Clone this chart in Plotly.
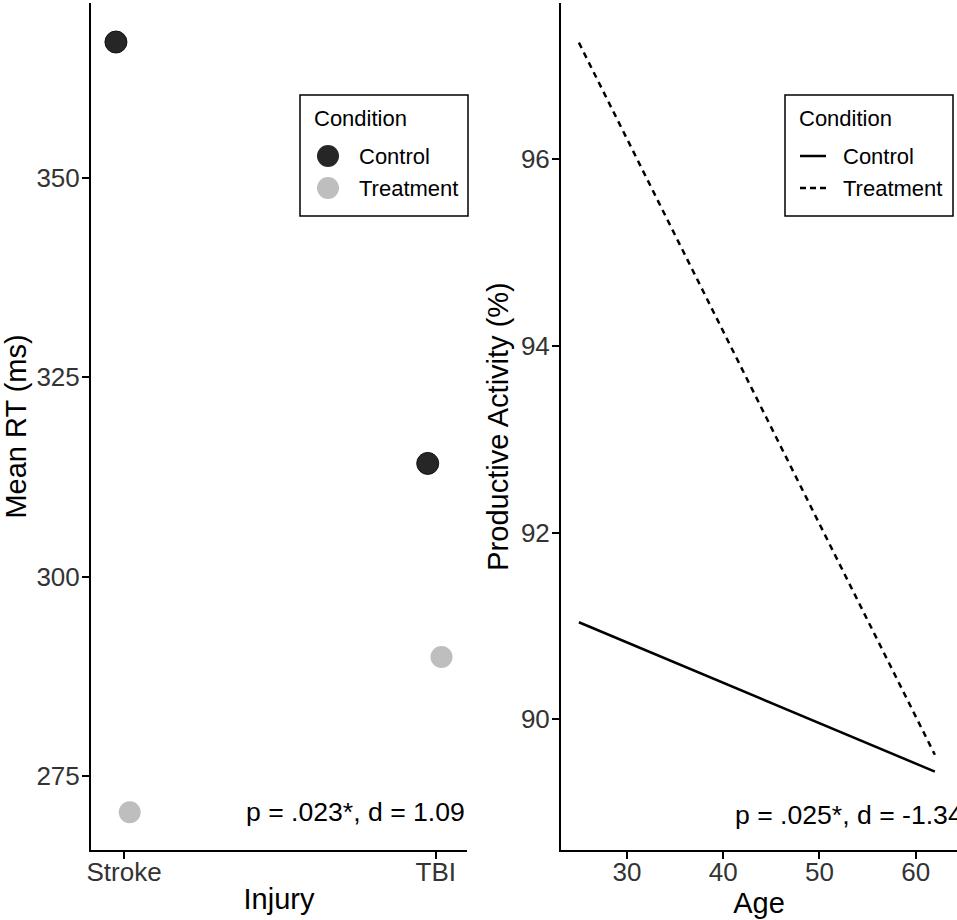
import plotly.graph_objects as go
from plotly.subplots import make_subplots

# left panel: mean RT by injury and condition
injury = ["Stroke", "TBI"]
injury_pos = [1, 2]
rt_control = [367.1, 314.2]
rt_treatment = [270.4, 289.9]
dodge = 0.026  # small horizontal offset between conditions

# right panel: fitted lines, productive activity vs age
age = [25, 62]
act_control = [91.04, 89.44]
act_treatment = [97.25, 89.62]

conditions = ["Control", "Treatment"]

FONT = "Liberation Sans, Arial, sans-serif"
W, H = 957, 920
DARK, LIGHT = "#262626", "#bebebe"


def px(x):
    return x / W


def py(y):
    return 1 - y / H


fig = make_subplots(rows=1, cols=2)

fig.add_trace(go.Scatter(x=[p - dodge for p in injury_pos], y=rt_control, mode="markers",
                         name="Control", showlegend=False,
                         marker=dict(size=22, color=DARK, line=dict(width=1, color="#111111"))),
              row=1, col=1)
fig.add_trace(go.Scatter(x=[p + dodge * 0.7 for p in injury_pos], y=rt_treatment, mode="markers",
                         name="Treatment", showlegend=False,
                         marker=dict(size=22, color=LIGHT, line=dict(width=0))),
              row=1, col=1)

fig.add_trace(go.Scatter(x=age, y=act_control, mode="lines", name="Control", showlegend=False,
                         line=dict(color="black", width=2.5)),
              row=1, col=2)
fig.add_trace(go.Scatter(x=age, y=act_treatment, mode="lines", name="Treatment", showlegend=False,
                         line=dict(color="black", width=2.5, dash="6px,5px")),
              row=1, col=2)

axis_style = dict(showgrid=False, zeroline=False, showline=True, linecolor="black", linewidth=2,
                  ticks="outside", ticklen=7, tickwidth=1.5, tickcolor="black",
                  tickfont=dict(family=FONT, size=26, color="#333333"),
                  title_font=dict(family=FONT, size=29, color="black"))

fig.update_xaxes(axis_style, ticklabelstandoff=-9)
fig.update_yaxes(axis_style, ticklabelstandoff=-3)

fig.update_xaxes(domain=[px(91), px(467)], range=[0.894, 2.1], tickvals=injury_pos, ticktext=injury,
                 title_text="Injury", title_standoff=2, row=1, col=1)
fig.update_yaxes(domain=[py(850), py(3)], range=[265.67, 372], tickvals=[275, 300, 325, 350],
                 title_text="Mean RT (ms)", title_standoff=6, row=1, col=1)
fig.update_xaxes(domain=[px(561), 1.0], range=[23.14, 64.3], tickvals=[30, 40, 50, 60],
                 title_text="Age", title_standoff=2, row=1, col=2)
fig.update_yaxes(domain=[py(850), py(3)], range=[88.6, 97.675], tickvals=[90, 92, 94, 96],
                 title_text="Productive Activity (%)", title_standoff=4, row=1, col=2)

fig.add_annotation(x=2.1, y=270.4, xref="x", yref="y", text="p = .023*, d = 1.09", showarrow=False,
                   xanchor="right", yanchor="middle", font=dict(family=FONT, size=26.6, color="black"))
fig.add_annotation(x=41.0, y=88.97, xref="x2", yref="y2", text="p = .025*, d = -1.34", showarrow=False,
                   xanchor="left", yanchor="middle", font=dict(family=FONT, size=26.6, color="black"))


# ggplot-style legend boxes (drawn by hand so the keys keep their full size)
def legend_box(left, kind):
    top, bottom = 95, 216
    fig.add_shape(type="rect", xref="paper", yref="paper", x0=px(left), x1=px(left + 168),
                  y0=py(bottom), y1=py(top), line=dict(color="black", width=1.5),
                  fillcolor="white", layer="above")
    fig.add_annotation(xref="paper", yref="paper", x=px(left + 12), y=py(118), text="Condition",
                       showarrow=False, xanchor="left", yanchor="middle",
                       font=dict(family=FONT, size=22, color="black"))
    for i, name in enumerate(conditions):
        yc = 156 + 32 * i
        if kind == "point":
            fig.add_shape(type="circle", xref="paper", yref="paper",
                          x0=px(left + 17), x1=px(left + 39), y0=py(yc + 11), y1=py(yc - 11),
                          fillcolor=[DARK, LIGHT][i], line=dict(width=0), layer="above")
            text_x = left + 57
        else:
            fig.add_shape(type="line", xref="paper", yref="paper",
                          x0=px(left + 15), x1=px(left + 41), y0=py(yc), y1=py(yc),
                          line=dict(color="black", width=2.5, dash=["solid", "6px,4px"][i]),
                          layer="above")
            text_x = left + 56
        fig.add_annotation(xref="paper", yref="paper", x=px(text_x), y=py(yc), text=name,
                           showarrow=False, xanchor="left", yanchor="middle",
                           font=dict(family=FONT, size=22, color="black"))


legend_box(300, "point")
legend_box(785, "line")

fig.update_layout(
    width=W, height=H,
    template="none",
    plot_bgcolor="white", paper_bgcolor="white",
    margin=dict(l=0, r=0, t=0, b=0),
    showlegend=False,
)

# drop the default page margin so the figure sits at the window's corner
fig.write_html("out.html", config={"displayModeBar": False},
               post_script="document.body.style.margin = '0';")
